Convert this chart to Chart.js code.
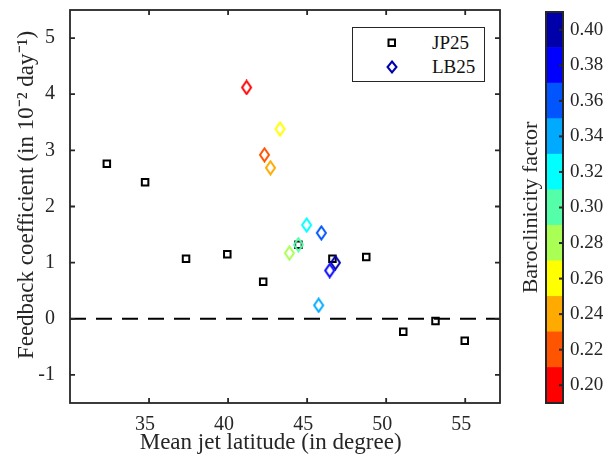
<!DOCTYPE html>
<html>
<head>
<meta charset="utf-8">
<script src="https://cdn.jsdelivr.net/npm/chart.js@4.4.1/dist/chart.umd.min.js"></script>
<style>
  html, body { margin: 0; padding: 0; background: #fff; }
  #wrap { position: relative; width: 608px; height: 471px; }
  #main { position: absolute; left: 0; top: 0; }
  #cbar { position: absolute; left: 500px; top: 0; }
  #legend {
    position: absolute; left: 352px; top: 27px; width: 131px; height: 53px;
    border: 1.5px solid #262626; background: #fff;
    font-family: "Liberation Serif", "Times New Roman", serif; font-size: 19px; color: #111;
  }
  .row { position: absolute; left: 0; height: 22px; line-height: 22px; }
  .row .mk { position: absolute; left: 34px; top: 6px; }
  .row .tx { position: absolute; left: 79px; top: 0; }
</style>
</head>
<body>
<div id="wrap">
  <canvas id="main" width="608" height="471"></canvas>
  <canvas id="cbar" width="108" height="471"></canvas>
  <div id="legend">
    <div class="row" style="top:4px">
      <svg class="mk" width="10" height="10"><rect x="1.5" y="1.5" width="6.5" height="6.5" fill="none" stroke="#000" stroke-width="2"/></svg>
      <span class="tx">JP25</span>
    </div>
    <div class="row" style="top:28px">
      <svg class="mk" width="12" height="14" style="top:4px;left:33px"><polygon points="6,1.5 10.5,7 6,12.5 1.5,7" fill="none" stroke="#0000b0" stroke-width="2"/></svg>
      <span class="tx">LB25</span>
    </div>
  </div>
</div>
<script>
// data
const jpLat = [32.33, 34.75, 37.34, 39.95, 42.22, 44.45, 46.60, 48.74, 51.08, 53.12, 54.97];
const jpFb  = [2.76, 2.43, 1.07, 1.15, 0.66, 1.32, 1.07, 1.10, -0.23, -0.04, -0.39];

const lbLat = [41.17, 43.29, 42.30, 42.68, 44.97, 45.90, 44.45, 43.88, 46.79, 46.43, 45.73];
const lbFb  = [4.12, 3.38, 2.92, 2.69, 1.67, 1.53, 1.32, 1.17, 1.00, 0.86, 0.24];
const lbBaro = [0.20, 0.26, 0.22, 0.24, 0.32, 0.36, 0.30, 0.28, 0.40, 0.38, 0.34];

const xTicks = [35, 40, 45, 50, 55];
const yTicks = [-1, 0, 1, 2, 3, 4, 5];
const xLim = [30, 57.2];
const yLim = [-1.5, 5.5];

// colorbar levels (jet, 11 steps)
const cbLevels = [0.20, 0.22, 0.24, 0.26, 0.28, 0.30, 0.32, 0.34, 0.36, 0.38, 0.40];
const cbColors = ["#ff0000", "#ff5500", "#ffaa00", "#ffff00", "#aaff55", "#55ffaa",
                  "#00ffff", "#00aaff", "#0055ff", "#0000ff", "#0000aa"];
const cbStep = 0.02;

const AX = "#262626";
const FONT = "'Liberation Serif', 'Times New Roman', serif";

function colorFor(v) {
  let best = 0;
  cbLevels.forEach((l, i) => { if (Math.abs(l - v) < Math.abs(cbLevels[best] - v)) best = i; });
  return cbColors[best];
}

// diamond marker, a bit taller than wide like matlab's
function diamond(color) {
  const c = document.createElement("canvas");
  c.width = 13; c.height = 16;
  const g = c.getContext("2d");
  g.strokeStyle = color;
  g.lineWidth = 2;
  g.beginPath();
  g.moveTo(6.5, 1.5); g.lineTo(11, 8); g.lineTo(6.5, 14.5); g.lineTo(2, 8);
  g.closePath();
  g.stroke();
  return c;
}

// no extra label padding, so the plot box lands where the layout says
function noPad(s) {
  s.paddingTop = 0; s.paddingBottom = 0; s.paddingLeft = 0; s.paddingRight = 0;
}

// box around the plot area + inward tick marks
const frame = {
  id: "frame",
  afterDatasetsDraw(chart, args, opts) {
    const { ctx, chartArea: a } = chart;
    ctx.save();
    ctx.strokeStyle = AX;
    ctx.lineWidth = opts.lw || 1.8;
    ctx.strokeRect(a.left, a.top, a.right - a.left, a.bottom - a.top);
    const len = opts.len || 5;
    (opts.x || []).forEach(id => {
      const s = chart.scales[id];
      s.ticks.forEach(t => {
        const px = s.getPixelForValue(t.value);
        ctx.beginPath();
        ctx.moveTo(px, a.bottom); ctx.lineTo(px, a.bottom - len);
        ctx.moveTo(px, a.top); ctx.lineTo(px, a.top + len);
        ctx.stroke();
      });
    });
    (opts.y || []).forEach(id => {
      const s = chart.scales[id];
      s.ticks.forEach(t => {
        const py = s.getPixelForValue(t.value);
        ctx.beginPath();
        if (!opts.rightOnly) { ctx.moveTo(a.left, py); ctx.lineTo(a.left + len, py); }
        ctx.moveTo(a.right, py); ctx.lineTo(a.right - len, py);
        ctx.stroke();
      });
    });
    ctx.restore();
  }
};

new Chart(document.getElementById("main"), {
  type: "scatter",
  data: {
    datasets: [
      {
        label: "LB25",
        order: 0,
        data: lbLat.map((x, i) => ({ x, y: lbFb[i] })),
        pointStyle: lbBaro.map(b => diamond(colorFor(b))),
        pointRadius: 6,
        pointHoverRadius: 6
      },
      {
        label: "JP25",
        order: 1,
        data: jpLat.map((x, i) => ({ x, y: jpFb[i] })),
        pointStyle: "rect",
        pointRadius: 4.6,
        pointHoverRadius: 4.6,
        borderColor: "#000",
        backgroundColor: "rgba(0,0,0,0)",
        borderWidth: 2
      },
      {
        type: "line",
        label: "zero",
        order: 2,
        data: xLim.map(x => ({ x, y: 0 })),
        borderColor: "#000",
        borderWidth: 2,
        borderDash: [16, 10],
        pointRadius: 0
      }
    ]
  },
  options: {
    responsive: false,
    animation: false,
    devicePixelRatio: 1,
    layout: { padding: { left: 0, top: 10, right: 108, bottom: 0 } },
    plugins: {
      legend: { display: false },
      tooltip: { enabled: false },
      frame: { x: ["x"], y: ["y"], len: 5 }
    },
    scales: {
      x: {
        type: "linear", min: xLim[0], max: xLim[1],
        afterBuildTicks: s => { s.ticks = xTicks.map(v => ({ value: v })); },
        afterFit: s => { s.height = 68; noPad(s); },
        grid: { display: false, drawTicks: false },
        border: { display: false },
        ticks: { color: AX, font: { family: FONT, size: 20 }, padding: 10, labelOffset: -4 },
        title: {
          // trailing spaces nudge it left a bit, like the original
          display: true, text: "Mean jet latitude (in degree)     ", color: AX,
          font: { family: FONT, size: 23 }, padding: { top: 0, bottom: 14 }
        }
      },
      y: {
        type: "linear", min: yLim[0], max: yLim[1],
        afterBuildTicks: s => { s.ticks = yTicks.map(v => ({ value: v })); },
        afterFit: s => { s.width = 70; noPad(s); },
        grid: { display: false, drawTicks: false },
        border: { display: false },
        ticks: { color: AX, font: { family: FONT, size: 20 }, padding: 15 },
        title: {
          display: true, text: "    Feedback coefficient (in 10\u207B\u00B2 day\u207B\u00B9)", color: AX,
          font: { family: FONT, size: 23 }, padding: { top: 13, bottom: 0 }
        }
      }
    }
  },
  plugins: [frame]
});

// colorbar: floating bars stacked on a single category
new Chart(document.getElementById("cbar"), {
  type: "bar",
  data: {
    labels: [""],
    datasets: cbLevels.map((l, i) => ({
      data: [[l - cbStep / 2, l + cbStep / 2]],
      backgroundColor: cbColors[i],
      borderWidth: 0,
      grouped: false,
      barPercentage: 1,
      categoryPercentage: 1,
      yAxisID: "y"
    }))
  },
  options: {
    responsive: false,
    animation: false,
    devicePixelRatio: 1,
    layout: { padding: { left: 18, top: 12, right: 0, bottom: 68 } },
    plugins: {
      legend: { display: false },
      tooltip: { enabled: false },
      frame: { y: ["y"], len: 4, rightOnly: true, lw: 2 }
    },
    scales: {
      x: { display: false },
      y: {
        position: "right", min: 0.19, max: 0.41,
        afterBuildTicks: s => { s.ticks = cbLevels.map(v => ({ value: v })); },
        afterFit: s => { s.width = 45; noPad(s); },
        grid: { display: false, drawTicks: false },
        border: { display: false },
        ticks: { color: AX, font: { family: FONT, size: 19 }, padding: 7, callback: v => v.toFixed(2) }
      },
      yt: {
        position: "left", min: 0.19, max: 0.41,
        afterFit: s => { s.width = 28; noPad(s); },
        grid: { display: false, drawTicks: false },
        border: { display: false },
        ticks: { display: false },
        title: {
          display: true, text: "Baroclinicity factor", color: AX,
          font: { family: FONT, size: 22 }, padding: { top: 0, bottom: 0 }
        }
      }
    }
  },
  plugins: [frame]
});
</script>
</body>
</html>
